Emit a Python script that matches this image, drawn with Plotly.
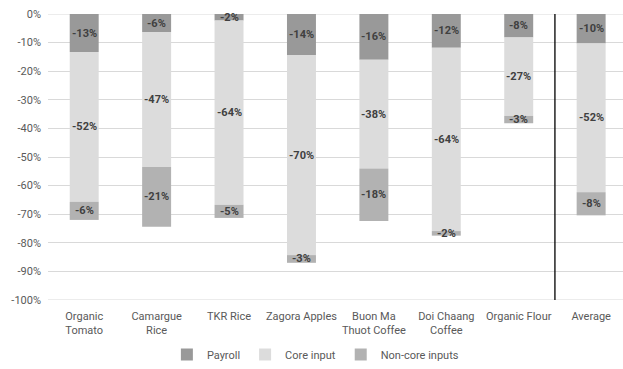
import plotly.graph_objects as go

categories = ["Organic<br>Tomato", "Camargue<br>Rice", "TKR Rice", "Zagora Apples",
              "Buon Ma<br>Thuot Coffee", "Doi Chaang<br>Coffee", "Organic Flour", "Average"]
payroll = [-13.3, -6.3, -2.3, -14.3, -16.0, -11.8, -8.2, -10.3]
core_input = [-52.4, -47.2, -64.4, -70.0, -38.0, -64.1, -27.4, -52.0]
non_core = [-6.3, -20.9, -4.6, -2.7, -18.4, -1.6, -2.6, -8.1]
y_ticks = list(range(0, -101, -10))
y_tick_labels = [f"{v}%" for v in y_ticks]

series = [
    ("Payroll", payroll, "#999999"),
    ("Core input", core_input, "#DCDCDC"),
    ("Non-core inputs", non_core, "#B2B2B2"),
]

FONT = "Roboto, Arial, sans-serif"
fig = go.Figure()
for name, vals, col in series:
    fig.add_trace(go.Bar(x=categories, y=vals, name=name, marker_color=col,
                         marker_line_width=0, width=0.4))

# data labels at segment midpoints
annotations = []
for i, cat in enumerate(categories):
    base = 0.0
    for name, vals, col in series:
        v = vals[i]
        mid = base + v / 2
        base += v
        annotations.append(dict(x=cat, y=mid, xref="x", yref="y",
                                text=f"<b>{round(v):d}%</b>",
                                showarrow=False, font=dict(family=FONT, size=11, color="#404040"),
                                xanchor="center", yanchor="middle"))

fig.update_layout(
    width=623, height=369,
    margin=dict(l=48, r=0, t=14, b=68),
    barmode="relative",
    plot_bgcolor="white", paper_bgcolor="white",
    font=dict(family=FONT, size=11, color="#595959"),
    annotations=annotations,
    showlegend=True,
    legend=dict(orientation="h", x=0.465, xanchor="center", y=-0.19, yanchor="middle",
                font=dict(family=FONT, size=11, color="#595959"), traceorder="normal",
                itemwidth=30, entrywidth=0),
    shapes=[dict(type="line", xref="x", yref="y", x0=6.5, x1=6.5, y0=0, y1=-100,
                 line=dict(color="black", width=1.3))],
)
fig.update_xaxes(range=[-0.5, 7.44], showgrid=False, ticks="", showline=False, tickangle=0,
                 tickfont=dict(family=FONT, size=11, color="#595959"), ticklabelstandoff=8)
fig.update_yaxes(range=[-100, 0], tickvals=y_ticks, ticktext=y_tick_labels,
                 showgrid=True, gridcolor="#D9D9D9", gridwidth=1, zeroline=False,
                 showline=False, ticks="", ticklabelstandoff=6,
                 tickfont=dict(family=FONT, size=11, color="#595959"))
fig.add_hline(y=0, line_color="#D9D9D9", line_width=1, layer="below")
fig.add_hline(y=-100, line_color="#D9D9D9", line_width=1, layer="below")

fig.write_html("out.html")
